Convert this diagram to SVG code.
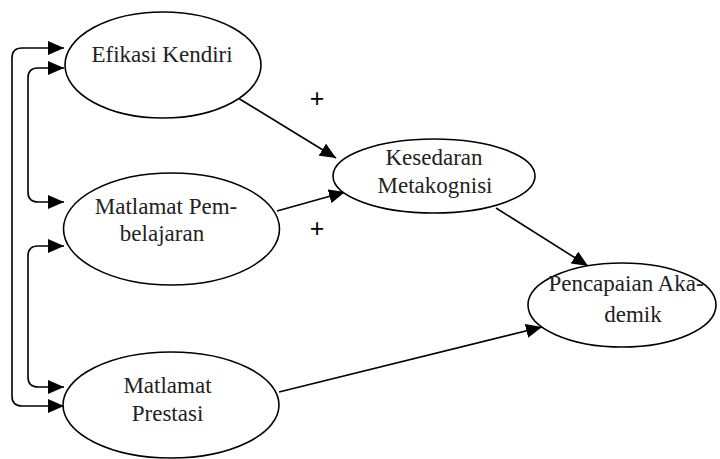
<svg xmlns="http://www.w3.org/2000/svg" width="720" height="459" viewBox="0 0 720 459">
<defs>
<marker id="ah" markerUnits="userSpaceOnUse" markerWidth="16" markerHeight="14" refX="16" refY="7" orient="auto-start-reverse">
<path d="M0,0 L16,7 L0,14 z" fill="#000"/>
</marker>
<style>
.node ellipse{fill:#fff;stroke:#000;stroke-width:1.6}
.node text{font-family:"Liberation Serif","Times New Roman",serif;font-size:23px;fill:#222;text-anchor:middle}
.conn path{fill:none;stroke:#000;stroke-width:1.6}
.dir{marker-end:url(#ah)}
.bi{marker-start:url(#ah);marker-end:url(#ah)}
.lbl{font-family:"Liberation Sans",Arial,sans-serif;font-size:25px;fill:#000;text-anchor:middle}
</style>
</defs>
<rect width="720" height="459" fill="#fff"/>
<g id="connectors" class="conn">
<path class="bi" d="M64,48 H22 Q12,48 12,58 V396 Q12,406 22,406 H64"/>
<path class="bi" d="M64,68 H38 Q28,68 28,78 V192 Q28,202 38,202 H64"/>
<path class="bi" d="M64,246 H38 Q28,246 28,256 V377 Q28,387 38,387 H64"/>
<path class="dir" d="M238,98 L336,158"/>
<path class="dir" d="M277,211 L345,192"/>
<path class="dir" d="M496,208 L588,266"/>
<path class="dir" d="M279,392 L542,327"/>
</g>
<g id="efikasi" class="node">
<ellipse cx="163" cy="65" rx="98" ry="53"/>
<text x="162" y="62">Efikasi Kendiri</text>
</g>
<g id="pembelajaran" class="node">
<ellipse cx="171.5" cy="229" rx="108" ry="56"/>
<text x="166" y="214">Matlamat Pem-</text>
<text x="162" y="241">belajaran</text>
</g>
<g id="prestasi" class="node">
<ellipse cx="171" cy="405" rx="108" ry="53"/>
<text x="167.5" y="393">Matlamat</text>
<text x="167.5" y="421">Prestasi</text>
</g>
<g id="kesedaran" class="node">
<ellipse cx="434" cy="176" rx="101" ry="37"/>
<text x="434" y="165">Kesedaran</text>
<text x="435" y="193">Metakognisi</text>
</g>
<g id="pencapaian" class="node">
<ellipse cx="622" cy="305" rx="94" ry="42"/>
<text x="626" y="291">Pencapaian Aka-</text>
<text x="633" y="322">demik</text>
</g>
<text class="lbl" x="317" y="107">+</text>
<text class="lbl" x="317" y="237">+</text>
</svg>
